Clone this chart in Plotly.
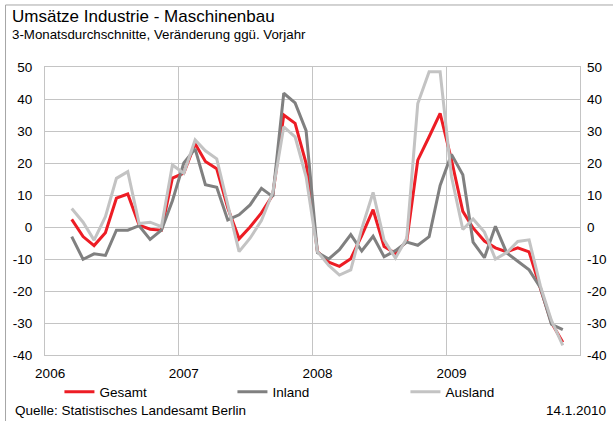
import plotly.graph_objects as go

# Months: March 2006 .. November 2009 (3-month averages, plotted mid-month)
months = [f"{y}-{m:02d}-15" for y in range(2006, 2010) for m in range(1, 13)][2:47]

gesamt = [2.4, -3.0, -5.8, -1.8, 9.0, 10.3, 0.6, -0.7, -1.0, 15.3,
          16.8, 26.0, 20.5, 18.2, 6.0, -3.7, 0.0, 4.4, 10.0, 35.0, 32.4, 19.9,
          -7.7, -11.0, -12.3, -9.9, -2.7, 5.4, -6.1, -8.2, -4.3, 20.9, 28.2, 35.5,
          21.0, 4.9, -0.3, -4.4, -6.5, -7.8, -6.5, -7.8, -19.2, -29.9, -36.0]
inland = [-3.0, -10.1, -8.4, -8.9, -1.0, -1.0, 0.4, -3.9, -1.0, 8.2,
          20.0, 24.4, 13.2, 12.4, 2.2, 3.8, 6.9, 12.1, 9.5, 41.8, 38.8, 30.1,
          -8.0, -10.0, -7.1, -2.4, -7.5, -2.9, -9.3, -7.4, -4.7, -5.7, -3.0, 13.0,
          22.7, 16.3, -4.7, -9.6, 0.2, -8.1, -10.7, -13.4, -19.0, -30.4, -32.1]
ausland = [5.8, 1.5, -4.1, 3.2, 15.2, 17.3, 1.1, 1.5, 0.1, 19.4,
           16.8, 27.2, 23.8, 21.3, 7.0, -7.7, -3.5, 2.0, 10.8, 31.3, 28.2, 15.7,
           -7.7, -12.0, -15.0, -13.4, -0.5, 10.8, -4.1, -9.7, -3.5, 38.6, 48.5, 48.5,
           15.8, -0.8, 2.5, -1.6, -10.0, -8.0, -4.5, -4.0, -18.5, -29.2, -37.0]

year_ticks = ["2006-01-15", "2007-01-15", "2008-01-15", "2009-01-15"]
year_labels = ["2006", "2007", "2008", "2009"]
y_ticks = [-40, -30, -20, -10, 0, 10, 20, 30, 40, 50]
y_labels = [str(v) for v in y_ticks]

FONT = "Liberation Sans, Arial, sans-serif"
GRID = "#c4c4c4"

fig = go.Figure()
fig.add_trace(go.Scatter(x=months, y=gesamt, name="Gesamt", mode="lines",
                         line=dict(color="#ed1c24", width=3)))
fig.add_trace(go.Scatter(x=months, y=inland, name="Inland", mode="lines",
                         line=dict(color="#808080", width=3)))
# Ausland is drawn against the (identical) right-hand axis so that axis is rendered
fig.add_trace(go.Scatter(x=months, y=ausland, name="Ausland", mode="lines", yaxis="y2",
                         line=dict(color="#c3c3c3", width=3)))

fig.update_layout(
    width=613, height=421,
    margin=dict(l=45, r=33, t=67, b=66, autoexpand=False),
    paper_bgcolor="white", plot_bgcolor="white",
    font=dict(family=FONT, size=13.5, color="black"),
    showlegend=True,
    legend=dict(orientation="h", x=0.027, xanchor="left", y=-0.128, yanchor="middle",
                entrywidth=128, font=dict(size=13.5), bgcolor="rgba(0,0,0,0)",
                itemwidth=30, tracegroupgap=0),
    xaxis=dict(type="date", range=["2006-01-01", "2010-01-01"],
               tickvals=year_ticks, ticktext=year_labels, ticks="",
               showgrid=False, ticklabelstandoff=6, automargin=False,
               minor=dict(tick0="2006-01-01", dtick="M12", showgrid=True,
                          gridcolor=GRID, gridwidth=1, ticks=""),
               showline=True, linecolor=GRID, linewidth=1, mirror=True,
               zeroline=False),
    yaxis=dict(range=[-40, 50], tickvals=y_ticks, ticktext=y_labels, ticks="",
               showgrid=True, gridcolor=GRID, gridwidth=1, zeroline=False,
               showline=True, linecolor=GRID, linewidth=1, mirror=True,
               ticklabelstandoff=9, automargin=False),
    yaxis2=dict(range=[-40, 50], tickvals=y_ticks, ticktext=y_labels, ticks="",
                overlaying="y", side="right", showgrid=False, zeroline=False,
                showline=False, ticklabelstandoff=6, automargin=False),
    shapes=[dict(type="rect", xref="paper", yref="paper",
                 x0=-0.0738, x1=1.3, y0=-0.6, y1=1.2153,
                 line=dict(color="#a6a6a6", width=1), fillcolor="rgba(0,0,0,0)",
                 layer="below")],
    annotations=[
        dict(text="Umsätze Industrie - Maschinenbau", xref="paper", yref="paper",
             x=-0.0654, y=1.1753, xanchor="left", yanchor="middle", showarrow=False,
             font=dict(size=17)),
        dict(text="3-Monatsdurchschnitte, Veränderung ggü. Vorjahr", xref="paper", yref="paper",
             x=-0.0654, y=1.1128, xanchor="left", yanchor="middle", showarrow=False,
             font=dict(size=13.3)),
        dict(text="Quelle: Statistisches Landesamt Berlin", xref="paper", yref="paper",
             x=-0.0589, y=-0.191, xanchor="left", yanchor="middle", showarrow=False,
             font=dict(size=13.5)),
        dict(text="14.1.2010", xref="paper", yref="paper",
             x=1.0523, y=-0.191, xanchor="right", yanchor="middle", showarrow=False,
             font=dict(size=13.5)),
    ],
)

fig.write_html("out.html", config={"displayModeBar": False},
               post_script="document.body.style.margin='0px';document.body.style.overflow='hidden';")
